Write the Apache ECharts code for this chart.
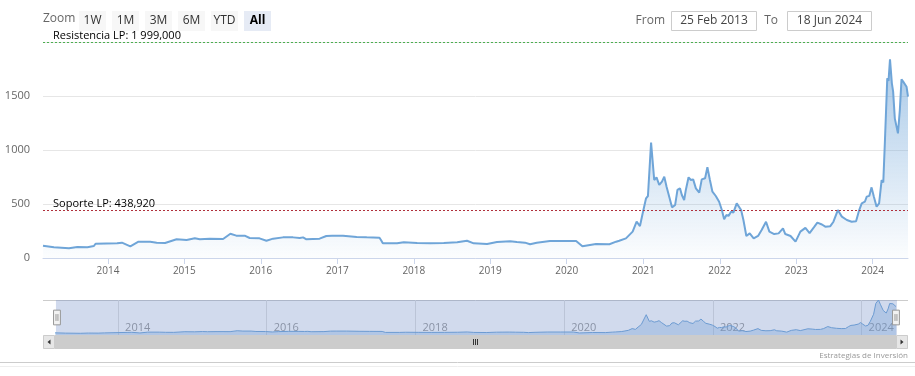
<!DOCTYPE html>
<html>
<head>
<meta charset="utf-8">
<title>Cotización</title>
<script src="https://cdn.jsdelivr.net/npm/echarts@6/dist/echarts.min.js"></script>
<style>
  html, body { margin: 0; padding: 0; background: #fff; }
  #chart { width: 915px; height: 376px; }
</style>
</head>
<body>
<div id="chart"></div>
<script>
// precio de cierre
var dates = [
  '2013-02-25','2013-04-18','2013-06-29','2013-08-08','2013-09-25','2013-10-26','2013-11-03',
  '2014-02-14','2014-03-09','2014-04-18','2014-05-27','2014-07-22','2014-08-22','2014-10-01','2014-11-25',
  '2015-01-12','2015-02-20','2015-03-16','2015-05-02','2015-07-05','2015-08-09','2015-09-06','2015-10-16','2015-11-09','2015-12-26',
  '2016-01-28','2016-02-29','2016-04-16','2016-06-03','2016-07-05','2016-07-21','2016-08-06','2016-10-08','2016-11-09','2016-12-07',
  '2017-01-28','2017-04-03','2017-05-21','2017-07-21','2017-07-28','2017-08-06','2017-10-13','2017-11-14',
  '2018-01-17','2018-03-22','2018-05-24','2018-07-27','2018-09-12','2018-10-14','2018-12-17',
  '2019-02-02','2019-04-06','2019-05-08','2019-06-16','2019-07-10','2019-08-11','2019-10-13','2019-12-15',
  '2020-02-15','2020-03-16','2020-05-20','2020-07-23','2020-08-24','2020-09-08','2020-10-10','2020-11-11','2020-11-30','2020-12-16','2020-12-29',
  '2021-01-14','2021-01-23','2021-02-07','2021-02-22','2021-03-05','2021-03-18','2021-03-31','2021-04-11','2021-04-22','2021-05-01',
  '2021-05-18','2021-06-02','2021-06-13','2021-06-25','2021-07-04','2021-07-15','2021-07-23','2021-08-05','2021-08-16','2021-08-27',
  '2021-09-09','2021-09-25','2021-10-07','2021-10-23','2021-11-03','2021-11-15','2021-11-27','2021-12-13','2021-12-29',
  '2022-01-11','2022-01-22','2022-02-02','2022-02-12','2022-02-24','2022-03-07','2022-03-23','2022-04-13','2022-04-24','2022-05-08',
  '2022-05-24','2022-06-01','2022-06-12','2022-07-03','2022-07-20','2022-08-10','2022-08-26','2022-09-18','2022-10-09','2022-10-30',
  '2022-11-10','2022-12-05','2022-12-29',
  '2023-01-21','2023-02-14','2023-03-06','2023-03-29','2023-04-12','2023-05-04','2023-05-20','2023-06-13','2023-06-28','2023-07-19',
  '2023-08-07','2023-08-31','2023-09-23','2023-10-14','2023-10-29','2023-11-10','2023-11-25','2023-12-04','2023-12-16','2023-12-27',
  '2024-01-07','2024-01-20','2024-02-01','2024-02-13','2024-02-21','2024-02-29','2024-03-11','2024-03-17','2024-03-24','2024-04-02',
  '2024-04-08','2024-04-16','2024-04-24','2024-05-01','2024-05-10','2024-05-18','2024-05-26','2024-06-03','2024-06-11','2024-06-18'
];
var prices = [
  114, 99, 90, 102, 99, 111, 132,
  136, 142, 108, 151, 151, 142, 139, 173,
  167, 182, 173, 179, 176, 225, 207, 207, 185, 182,
  160, 179, 191, 191, 185, 191, 173, 179, 204, 207,
  207, 194, 191, 188, 167, 136, 136, 145,
  139, 136, 139, 145, 160, 136, 130,
  148, 154, 148, 142, 127, 142, 157, 157,
  157, 108, 130, 127, 151, 160, 182, 244, 336, 296, 414,
  553, 574, 1068, 722, 747, 676, 707, 753, 660, 676,
  469, 491, 630, 645, 583, 537, 630, 747, 722, 728,
  645, 605, 728, 738, 840, 722, 614, 574, 521,
  444, 358, 398, 390, 429, 420, 506, 444, 352, 204,
  228, 234, 182, 204, 259, 336, 244, 222, 228, 275,
  222, 204, 151,
  244, 279, 231, 290, 327, 310, 290, 295, 336, 444,
  383, 352, 336, 340, 444, 506, 521, 568, 575, 654,
  568, 475, 506, 722, 700, 1093, 1664, 1640, 1840, 1617,
  1540, 1293, 1280, 1154, 1370, 1654, 1633, 1640, 1586, 1494
];
var yearTicks = ['2014-01-01','2015-01-01','2016-01-01','2017-01-01','2018-01-01','2019-01-01',
                 '2020-01-01','2021-01-01','2022-01-01','2023-01-01','2024-01-01'];
var navYearTicks = ['2014-01-01','2016-01-01','2018-01-01','2020-01-01','2022-01-01','2024-01-01'];
var resistencia = 1999;
var soporte = 438.92;
var zoomButtons = ['1W', '1M', '3M', '6M', 'YTD', 'All'];
var fromDate = '25 Feb 2013';
var toDate = '18 Jun 2024';

var font = '"Open Sans", "Noto Sans", sans-serif';

function fmt(v) {
  var parts = v.toFixed(3).split('.');
  var ent = parts[0].replace(/\B(?=(\d{3})+(?!\d))/g, ' ');
  return ent + ',' + parts[1];
}
function ts(s) { return echarts.time.parse(s).getTime(); }

var seriesData = dates.map(function (d, i) { return [d, prices[i]]; });

var mychart = echarts.init(document.getElementById('chart'), null, { renderer: 'canvas' });

// botones del selector de rango
var graphics = [
  { type: 'text', left: 43, top: 13, style: { text: 'Zoom', fill: '#666', font: '12px ' + font } }
];
zoomButtons.forEach(function (b, i) {
  var sel = (b === 'All');
  graphics.push({
    type: 'rect', shape: { x: 79 + i * 33, y: 11, width: 27, height: 20 },
    style: { fill: sel ? '#e6ebf5' : '#f7f7f7' }
  });
  graphics.push({
    type: 'text', x: 79 + i * 33 + 13.5, y: 21,
    style: { text: b, fill: sel ? '#000' : '#333', font: (sel ? 'bold ' : '') + '12px ' + font,
             textAlign: 'center', textVerticalAlign: 'middle' }
  });
});
graphics.push(
  { type: 'text', x: 665, y: 21, style: { text: 'From', fill: '#666', font: '12px ' + font, textAlign: 'right', textVerticalAlign: 'middle' } },
  { type: 'rect', shape: { x: 671.5, y: 11.5, width: 85, height: 19 }, style: { fill: '#fff', stroke: '#cccccc', lineWidth: 1 } },
  { type: 'text', x: 714, y: 21, style: { text: fromDate, fill: '#444', font: '12px ' + font, textAlign: 'center', textVerticalAlign: 'middle' } },
  { type: 'text', x: 778, y: 21, style: { text: 'To', fill: '#666', font: '12px ' + font, textAlign: 'right', textVerticalAlign: 'middle' } },
  { type: 'rect', shape: { x: 787.5, y: 11.5, width: 84, height: 19 }, style: { fill: '#fff', stroke: '#cccccc', lineWidth: 1 } },
  { type: 'text', x: 829.5, y: 21, style: { text: toDate, fill: '#444', font: '12px ' + font, textAlign: 'center', textVerticalAlign: 'middle' } }
);
// navegador: línea superior y barra de desplazamiento
graphics.push(
  { type: 'line', shape: { x1: 43, y1: 300.5, x2: 908, y2: 300.5 }, style: { stroke: '#cccccc', lineWidth: 1 } },
  { type: 'rect', shape: { x: 43, y: 335, width: 865, height: 14 }, style: { fill: '#f2f2f2' } },
  { type: 'rect', shape: { x: 55, y: 335, width: 841, height: 14 }, style: { fill: '#cccccc' } },
  { type: 'rect', shape: { x: 43.5, y: 335.5, width: 11, height: 13 }, style: { fill: '#e6e6e6', stroke: '#cccccc' } },
  { type: 'rect', shape: { x: 896.5, y: 335.5, width: 11, height: 13 }, style: { fill: '#e6e6e6', stroke: '#cccccc' } },
  { type: 'polygon', shape: { points: [[50.5, 339.5], [47.5, 342], [50.5, 344.5]] }, style: { fill: '#333' } },
  { type: 'polygon', shape: { points: [[900.5, 339.5], [903.5, 342], [900.5, 344.5]] }, style: { fill: '#333' } },
  { type: 'line', shape: { x1: 473.5, y1: 339, x2: 473.5, y2: 345 }, style: { stroke: '#333' } },
  { type: 'line', shape: { x1: 475.5, y1: 339, x2: 475.5, y2: 345 }, style: { stroke: '#333' } },
  { type: 'line', shape: { x1: 477.5, y1: 339, x2: 477.5, y2: 345 }, style: { stroke: '#333' } },
  { type: 'text', x: 908, y: 356, style: { text: 'Estrategias de Inversión', fill: '#999', font: '8px ' + font, textAlign: 'right', textVerticalAlign: 'middle' } },
  { type: 'line', shape: { x1: 0, y1: 362.5, x2: 915, y2: 362.5 }, style: { stroke: '#cccccc' } },
  { type: 'line', shape: { x1: 0, y1: 366.5, x2: 915, y2: 366.5 }, style: { stroke: '#eeeeee' } }
);

var lineColor = '#6fa5d8';

option = {
  animation: false,
  textStyle: { fontFamily: font },
  grid: [
    { left: 43, right: 7, top: 42, height: 216 },
    { left: 55, right: 19, top: 300, height: 35 }
  ],
  xAxis: [
    {
      type: 'time', gridIndex: 0,
      min: dates[0], max: dates[dates.length - 1],
      axisLine: { lineStyle: { color: '#ccd6eb' } },
      axisTick: { show: true, length: 6, lineStyle: { color: '#ccd6eb' }, customValues: yearTicks.map(ts) },
      axisLabel: { color: '#666', fontSize: 10, margin: 8, formatter: '{yyyy}', customValues: yearTicks.map(ts) },
      splitLine: { show: false }
    },
    {
      type: 'time', gridIndex: 1,
      min: dates[0], max: dates[dates.length - 1],
      axisLine: { show: false },
      axisTick: { show: true, inside: true, length: 35, lineStyle: { color: '#e0e0e0' }, customValues: navYearTicks.map(ts) },
      axisLabel: { inside: true, color: '#999', fontSize: 11, margin: 2, align: 'left', padding: [0, 0, 0, 7],
                   formatter: '{yyyy}', customValues: navYearTicks.map(ts) },
      splitLine: { show: false }
    }
  ],
  yAxis: [
    {
      type: 'value', gridIndex: 0, min: 0, max: 2000, interval: 500,
      axisLine: { show: false }, axisTick: { show: false },
      axisLabel: { color: '#666', fontSize: 11, margin: 13, showMaxLabel: false, verticalAlign: 'middle', padding: [0, 0, 9, 0],
                   formatter: function (v) { return String(v); } },
      splitLine: { lineStyle: { color: '#e6e6e6' } }
    },
    {
      type: 'value', gridIndex: 1, min: 0, max: 'dataMax', show: false, splitLine: { show: false }
    }
  ],
  dataZoom: [
    {
      type: 'slider', xAxisIndex: [0], filterMode: 'none',
      left: 55, right: 19, top: 300, height: 35,
      start: 0, end: 100,
      showDataShadow: false, showDetail: false, brushSelect: false, moveHandleSize: 0,
      backgroundColor: 'rgba(0,0,0,0)', borderColor: 'rgba(0,0,0,0)',
      fillerColor: 'rgba(102,133,194,0.3)',
      handleIcon: 'path://M0,0 H7 V15 H0 Z M2.5,4 V11 M4.5,4 V11',
      handleSize: '42%',
      handleStyle: { color: '#f2f2f2', borderColor: '#999999', borderWidth: 1 },
      emphasis: { handleStyle: { color: '#f2f2f2', borderColor: '#999999' } }
    }
  ],
  series: [
    {
      name: 'Cotización', type: 'line', xAxisIndex: 0, yAxisIndex: 0,
      data: seriesData, symbol: 'none', showSymbol: false,
      lineStyle: { color: lineColor, width: 2 },
      itemStyle: { color: lineColor },
      areaStyle: {
        color: new echarts.graphic.LinearGradient(0, 0, 0, 1, [
          { offset: 0, color: 'rgba(111,165,216,0.85)' },
          { offset: 1, color: 'rgba(111,165,216,0.03)' }
        ])
      },
      markLine: {
        silent: true, symbol: 'none',
        data: [
          {
            yAxis: resistencia,
            lineStyle: { color: '#4caf50', type: [2, 2], width: 1 },
            label: { position: 'insideStartTop', formatter: 'Resistencia LP: ' + fmt(resistencia),
                     color: '#000', fontSize: 11, distance: [10, 1] }
          },
          {
            yAxis: soporte,
            lineStyle: { color: '#b0303c', type: [2, 2], width: 1 },
            label: { position: 'insideStartTop', formatter: 'Soporte LP: ' + fmt(soporte),
                     color: '#000', fontSize: 11, distance: [10, 1] }
          }
        ]
      }
    },
    {
      name: 'Navegador', type: 'line', xAxisIndex: 1, yAxisIndex: 1,
      data: seriesData, symbol: 'none', showSymbol: false, silent: true,
      lineStyle: { color: lineColor, width: 1 },
      areaStyle: { color: 'rgba(111,165,216,0.45)' }
    }
  ],
  graphic: graphics
};
mychart.setOption(option);
</script>
</body>
</html>
